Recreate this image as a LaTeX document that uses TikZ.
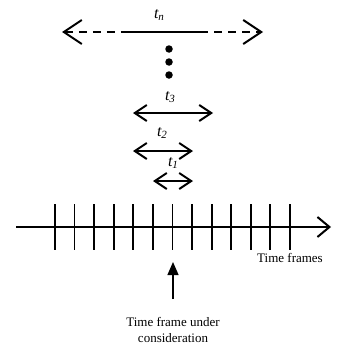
\documentclass[tikz,border=0pt]{standalone}
\usepackage{fontspec}
\setmainfont{Liberation Serif}
\usetikzlibrary{arrows.meta}
\tikzset{
  dbl/.style={line width=2pt, {Straight Barb[length=12pt,width=16pt]}-{Straight Barb[length=12pt,width=16pt]}},
  tlabel/.style={inner sep=0pt, font=\fontsize{16}{18}\selectfont\itshape},
  txt/.style={inner sep=0pt, font=\fontsize{13}{15.5}\selectfont, align=center},
  tick/.style={line width=1.8pt},
  dot/.style={circle, fill=black, inner sep=0pt, minimum size=7.5pt},
}
\begin{document}
\begin{tikzpicture}[x=1pt,y=-1pt]
\useasboundingbox (0,0) rectangle (338,348);
% t_n arrow
\coordinate (nL) at (62,32);
\coordinate (nR) at (263,32);
\coordinate (nA) at (122,32);
\coordinate (nB) at (200,32);
\draw[line width=2pt, dash pattern=on 8pt off 6pt, {Straight Barb[length=18pt,width=24pt]}-] (nL) -- (nA);
\draw[line width=2pt] (nA) -- (nB);
\draw[line width=2pt, dash pattern=on 8pt off 6pt, -{Straight Barb[length=18pt,width=24pt]}] (nB) -- (nR);
\node[tlabel] (ln) at (159,15) {t\raisebox{-0.35ex}{\fontsize{11}{12}\selectfont n}};
% dots
\node[dot] (d1) at (169,49) {};
\node[dot] (d2) at (169,62) {};
\node[dot] (d3) at (169,75) {};
% t3
\coordinate (a3) at (133,113);
\coordinate (b3) at (213,113);
\draw[dbl] (a3) -- (b3);
\node[tlabel] (l3) at (170,97) {t\raisebox{-0.35ex}{\fontsize{11}{12}\selectfont 3}};
% t2
\coordinate (a2) at (133,151);
\coordinate (b2) at (193,151);
\draw[dbl] (a2) -- (b2);
\node[tlabel] (l2) at (162,133) {t\raisebox{-0.35ex}{\fontsize{11}{12}\selectfont 2}};
% t1
\coordinate (a1) at (153,181);
\coordinate (b1) at (193,181);
\draw[dbl] (a1) -- (b1);
\node[tlabel] (l1) at (173,163) {t\raisebox{-0.35ex}{\fontsize{11}{12}\selectfont 1}};
% axis
\coordinate (ax0) at (16,227);
\coordinate (ax1) at (331,227);
\draw[line width=2pt, -{Straight Barb[length=12pt,width=20pt]}] (ax0) -- (ax1);
\foreach \i in {0,...,12} {
  \draw[tick] ({55+19.58*\i},204) -- ({55+19.58*\i},250);
}
\node[txt] (tf) at (290,258) {Time frames};
% pointer arrow
\node[txt] (cons) at (173,330) {Time frame under\\consideration};
\coordinate (pt) at (173,262);
\coordinate (pb) at (173,299);
\draw[line width=1.3pt, -{Triangle[length=13pt,width=11pt]}] (pb) -- (pt);
\end{tikzpicture}
\end{document}
